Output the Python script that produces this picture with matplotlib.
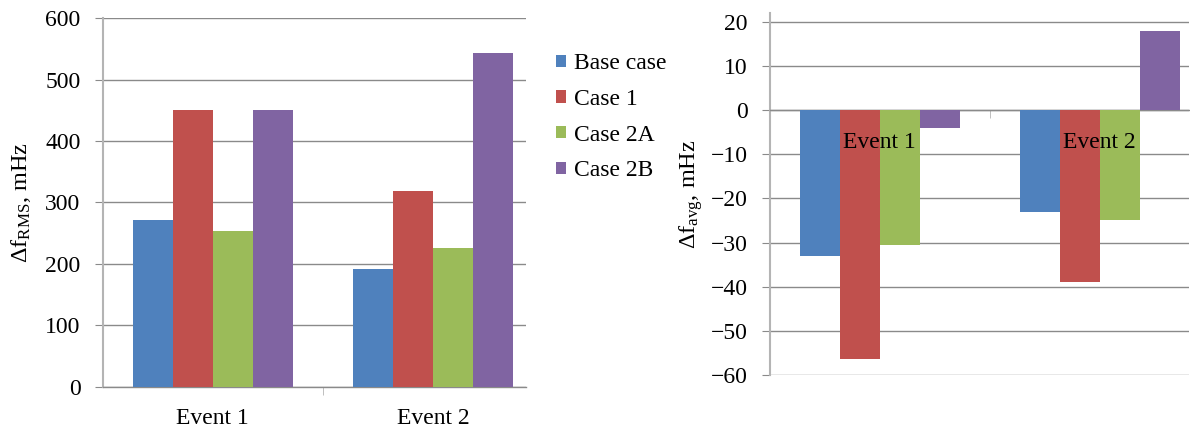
import numpy as np
import matplotlib
matplotlib.use('Agg')
import matplotlib.pyplot as plt

plt.rcParams['font.family'] = ['Liberation Serif', 'DejaVu Serif']
plt.rcParams['mathtext.fontset'] = 'custom'
plt.rcParams['mathtext.rm'] = 'Liberation Serif'
plt.rcParams['mathtext.it'] = 'Liberation Serif:italic'
plt.rcParams['font.size'] = 17

events = ['Event 1', 'Event 2']
cases = ['Base case', 'Case 1', 'Case 2A', 'Case 2B']
colors = ['#4F81BD', '#C0504D', '#9BBB59', '#8064A2']

# delta f RMS, mHz  (rows = cases, cols = events)
f_rms = [[271, 191],
         [450, 319],
         [253, 226],
         [450, 544]]
# delta f avg, mHz
f_avg = [[-33.0, -23.0],
         [-56.3, -39.0],
         [-30.6, -25.0],
         [-4.0, 18.0]]

grid_c = '#8A8A8A'
spine_c = '#B4B4B4'
bw = 1 / 5.5
x = np.arange(len(events))

fig = plt.figure(figsize=(11.9, 4.34), dpi=100)
ax1 = fig.add_axes([0.0863, 0.109, 0.3557, 0.849])
ax2 = fig.add_axes([0.647, 0.136, 0.352, 0.835])


def draw_bars(ax, data):
    handles = []
    for i, (vals, c) in enumerate(zip(data, colors)):
        h = ax.bar(x + (i - 1.5) * bw, vals, width=bw, color=c, zorder=3,
                   label=cases[i])
        handles.append(h)
    ax.set_axisbelow(True)
    ax.yaxis.grid(True, color=grid_c, lw=1)
    for s in ['top', 'right']:
        ax.spines[s].set_visible(False)
    ax.spines['left'].set_color(spine_c)
    ax.spines['left'].set_linewidth(1.5)
    ax.spines['bottom'].set_color(grid_c)
    ax.spines['bottom'].set_linewidth(1)
    ax.tick_params(axis='y', length=6, color=grid_c, pad=10)
    ax.set_xticks(x)
    ax.set_xticks([0.5], minor=True)
    ax.tick_params(axis='x', which='major', length=0)
    ax.tick_params(axis='x', which='minor', length=6, color=spine_c)
    return handles


handles = draw_bars(ax1, f_rms)
ax1.set_xlim(-0.5, 1.421)
ax1.set_ylim(0, 600)
ax1.set_yticks(np.arange(0, 601, 100))
ax1.set_xticklabels(events)
ax1.tick_params(axis='x', which='major', pad=15)
ax1.set_ylabel(r'$\Delta\mathrm{f}_{\mathrm{RMS}}$, mHz', fontsize=17.5)
ax1.yaxis.set_label_coords(-0.165, 0.5)

draw_bars(ax2, f_avg)
ax2.set_xlim(-0.5, 1.405)
ax2.set_ylim(-60, 22.1)
ax2.set_yticks(np.arange(-60, 21, 10))
ax2.set_xticklabels([])
ax2.spines['bottom'].set_position(('data', 0))
for xi, ev in zip(x, events):
    ax2.annotate(ev, xy=(xi, 0), xytext=(0, -23.5), textcoords='offset points',
                 ha='center', va='center', zorder=6)
ax2.set_ylabel(r'$\Delta\mathrm{f}_{\mathrm{avg}}$, mHz', fontsize=17.5)
ax2.yaxis.set_label_coords(-0.155, 0.5)

fig.legend(handles, cases, loc='upper left', bbox_to_anchor=(0.467, 0.877),
           frameon=False, borderpad=0, borderaxespad=0,
           handlelength=0.42, handleheight=0.42,
           handletextpad=0.35, labelspacing=0.62, fontsize=17)

fig.savefig('out.png', dpi=100)
